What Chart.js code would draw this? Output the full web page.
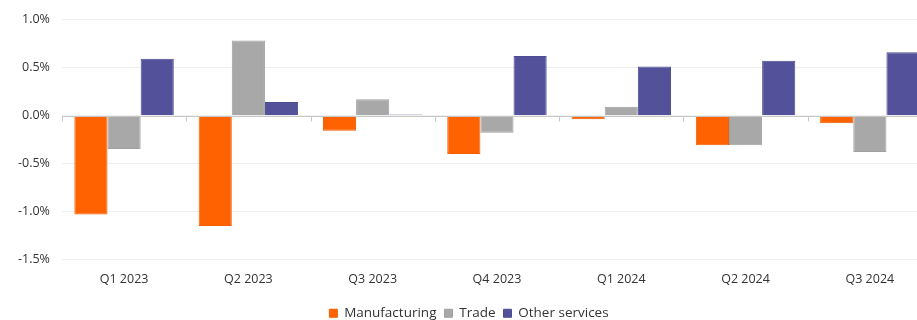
<!DOCTYPE html>
<html>
<head>
<meta charset="utf-8">
<script src="https://cdn.jsdelivr.net/npm/chart.js@4"></script>
<style>
  html, body { margin: 0; padding: 0; background: #fff; overflow: hidden; }
  #wrap { width: 932px; height: 320px; }
</style>
</head>
<body>
<div id="wrap"><canvas id="chartGva"></canvas></div>
<script>
// GVA growth q/q by sector
const quarters = ['Q1 2023', 'Q2 2023', 'Q3 2023', 'Q4 2023', 'Q1 2024', 'Q2 2024', 'Q3 2024'];
const manufacturing = [-1.03, -1.15, -0.16, -0.40, -0.04, -0.31, -0.08];
const trade = [-0.35, 0.78, 0.17, -0.18, 0.09, -0.31, -0.38];
const otherServices = [0.59, 0.14, 0.01, 0.62, 0.51, 0.57, 0.66];
const yTicks = [-1.5, -1.0, -0.5, 0.0, 0.5, 1.0];

// zero line with small ticks between categories
const zeroLine = {
    id: 'zeroLine',
    afterDatasetsDraw(chart) {
        const { ctx, scales: { x, y } } = chart;
        const y0 = Math.round(y.getPixelForValue(0)) + 0.5;
        ctx.save();
        ctx.strokeStyle = '#c8c8c8';
        ctx.lineWidth = 1;
        ctx.beginPath();
        ctx.moveTo(x.left, y0);
        ctx.lineTo(x.right, y0);
        for (let i = 0; i <= quarters.length; i++) {
            const px = Math.round(x.getPixelForValue(i - 0.5)) + 0.5;
            ctx.moveTo(px, y0);
            ctx.lineTo(px, y0 + 5);
        }
        ctx.stroke();
        ctx.restore();
    }
};

Chart.defaults.font.family = "'Open Sans', sans-serif";
Chart.defaults.color = '#444';

const ctxGva = document.getElementById('chartGva').getContext('2d');
const chartGva = new Chart(ctxGva, {
    type: 'bar',
    data: {
        labels: quarters,
        datasets: [{
            label: 'Manufacturing',
            data: manufacturing,
            backgroundColor: '#ff6200',
            borderColor: '#f25d00',
            borderWidth: 1
        }, {
            label: 'Trade',
            data: trade,
            backgroundColor: '#a8a8a8',
            borderColor: '#a0a0a0',
            borderWidth: 1
        }, {
            label: 'Other services',
            data: otherServices,
            backgroundColor: '#525199',
            borderColor: '#4d4c92',
            borderWidth: 1
        }]
    },
    options: {
        responsive: true,
        maintainAspectRatio: false,
        animation: false,
        datasets: {
            bar: { categoryPercentage: 0.8, barPercentage: 1.0 }
        },
        layout: { padding: { top: 18, left: 6, right: 0, bottom: -10 } },
        plugins: {
            legend: {
                position: 'bottom',
                labels: {
                    boxWidth: 8,
                    boxHeight: 8,
                    padding: 8,
                    font: { size: 13.5 },
                    color: '#333'
                }
            },
            tooltip: { enabled: false }
        },
        scales: {
            x: {
                grid: { display: false },
                border: { display: false },
                ticks: { font: { size: 12.5 }, color: '#333', padding: 4 },
                afterFit: function(scale) {
                    scale.height += 8;
                }
            },
            y: {
                min: -1.5,
                max: 1.0,
                afterBuildTicks: function(scale) {
                    scale.ticks = yTicks.map(v => ({ value: v }));
                },
                grid: { color: '#efefef', drawTicks: false },
                border: { display: false },
                ticks: {
                    font: { size: 12.5 },
                    color: '#333',
                    padding: 12,
                    callback: v => v.toFixed(1) + '%'
                }
            }
        }
    },
    plugins: [zeroLine]
});
</script>
</body>
</html>
